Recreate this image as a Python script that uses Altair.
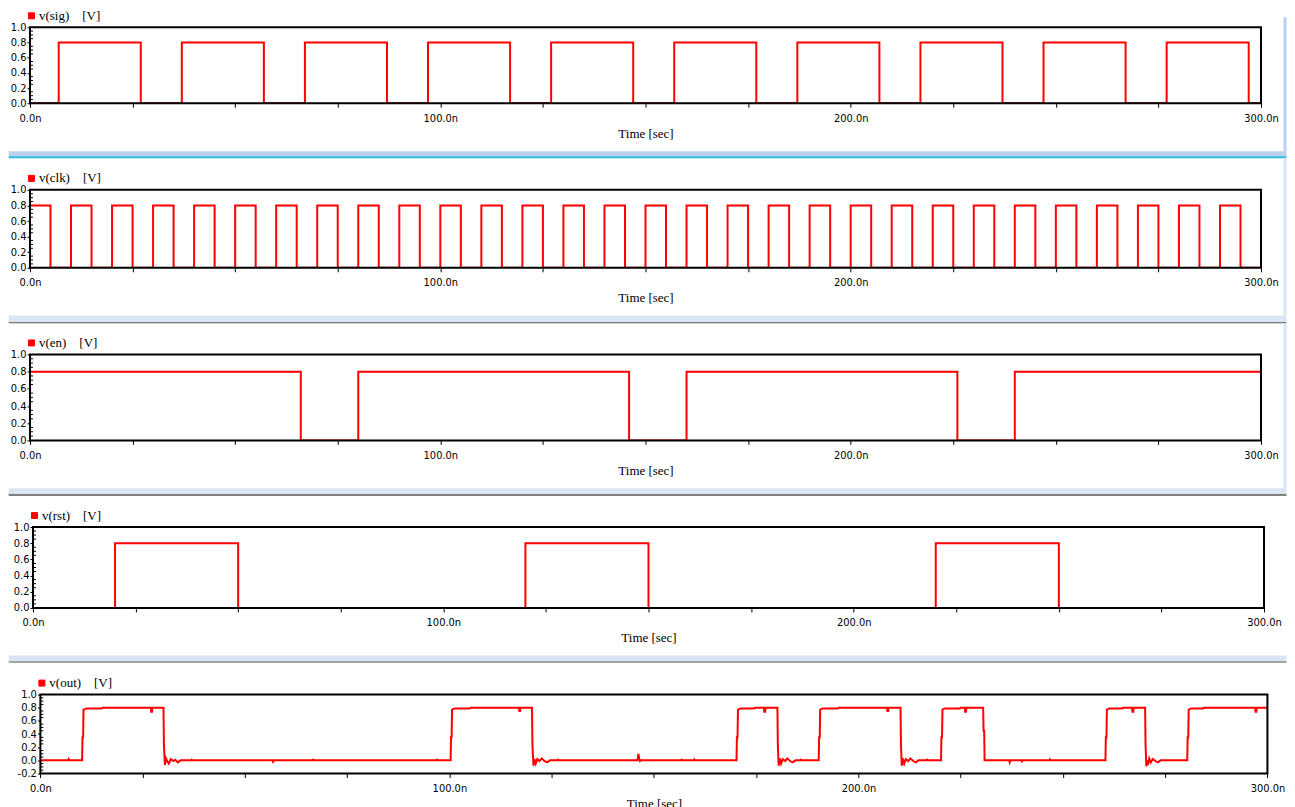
import altair as alt
import pandas as pd

# time axis, ns
x_ticks = [0, 25, 50, 75, 100, 125, 150, 175, 200, 225, 250, 275, 300]
y_labels = [0.0, 0.2, 0.4, 0.6, 0.8, 1.0]
y_labels_out = [-0.2, 0.0, 0.2, 0.4, 0.6, 0.8, 1.0]
y_minor = [0.05, 0.1, 0.15, 0.25, 0.3, 0.35, 0.45, 0.5, 0.55, 0.65, 0.7, 0.75, 0.85, 0.9, 0.95]
y_minor_out = [-0.15, -0.1, -0.05] + y_minor

# digital inputs: time of each edge and the level after it
sig_t = [0, 7, 27, 37, 57, 67, 87, 97, 117, 127, 147, 157, 177, 187, 207, 217, 237, 247, 267, 277, 297, 300]
sig_v = [0, 0.8, 0, 0.8, 0, 0.8, 0, 0.8, 0, 0.8, 0, 0.8, 0, 0.8, 0, 0.8, 0, 0.8, 0, 0.8, 0, 0]

clk_t = [0, 5, 10, 15, 20, 25, 30, 35, 40, 45, 50, 55, 60, 65, 70, 75, 80, 85, 90, 95,
         100, 105, 110, 115, 120, 125, 130, 135, 140, 145, 150, 155, 160, 165, 170, 175,
         180, 185, 190, 195, 200, 205, 210, 215, 220, 225, 230, 235, 240, 245, 250, 255,
         260, 265, 270, 275, 280, 285, 290, 295, 300]
clk_v = [0.8, 0, 0.8, 0, 0.8, 0, 0.8, 0, 0.8, 0, 0.8, 0, 0.8, 0, 0.8, 0, 0.8, 0, 0.8, 0,
         0.8, 0, 0.8, 0, 0.8, 0, 0.8, 0, 0.8, 0, 0.8, 0, 0.8, 0, 0.8, 0,
         0.8, 0, 0.8, 0, 0.8, 0, 0.8, 0, 0.8, 0, 0.8, 0, 0.8, 0, 0.8, 0,
         0.8, 0, 0.8, 0, 0.8, 0, 0.8, 0, 0]

en_t = [0, 66, 80, 146, 160, 226, 240, 300]
en_v = [0.8, 0, 0.8, 0, 0.8, 0, 0.8, 0.8]

rst_t = [0, 20, 50, 120, 150, 220, 250, 300]
rst_v = [0, 0.8, 0, 0.8, 0, 0.8, 0, 0]

# analog output (t ns, V)
out_points = [
    (0.0, -0.01), (0.5, 0.0), (6.8, 0.0), (6.9, 0.02), (7.1, 0.0), (10.2, 0.0),
    (10.3, 0.35), (10.45, 0.35), (10.55, 0.77), (11.3, 0.79), (15.0, 0.79), (15.2, 0.8),
    (27.0, 0.8), (27.1, 0.74), (27.3, 0.74), (27.4, 0.8),
    (30.1, 0.8), (30.2, 0.25), (30.45, -0.07), (30.7, 0.03), (31.0, -0.01), (31.4, -0.05),
    (31.9, 0.02), (32.5, -0.01), (33.0, 0.01), (33.6, -0.03), (34.3, 0.0),
    (36.9, 0.0), (37.0, 0.01), (37.2, 0.0),
    (56.8, 0.0), (56.9, -0.02), (57.1, 0.0), (66.6, 0.0), (66.7, 0.01), (66.9, 0.0),
    (96.9, 0.0), (97.0, 0.01), (97.2, 0.0),
    (100.3, 0.0), (100.4, 0.35), (100.55, 0.35), (100.65, 0.77), (101.3, 0.79), (105.0, 0.79), (105.2, 0.8),
    (117.0, 0.8), (117.1, 0.75), (117.3, 0.75), (117.4, 0.8),
    (120.2, 0.8), (120.3, 0.25), (120.55, -0.08), (120.8, 0.02), (121.1, -0.05), (121.5, 0.02),
    (122.0, -0.01), (122.6, 0.03), (123.2, -0.01), (123.9, -0.03), (124.6, 0.0),
    (126.5, 0.0), (126.6, 0.01), (126.8, 0.0),
    (146.0, 0.0), (146.2, 0.1), (146.4, 0.03), (146.6, -0.01), (146.8, 0.0),
    (156.7, 0.0), (156.8, 0.01), (157.0, 0.0), (159.8, 0.0), (159.9, 0.015), (160.1, 0.0),
    (170.2, 0.0), (170.3, 0.35), (170.45, 0.35), (170.55, 0.77), (171.2, 0.79), (174.5, 0.79), (174.7, 0.8),
    (176.9, 0.8), (177.0, 0.74), (177.2, 0.74), (177.3, 0.8),
    (180.2, 0.8), (180.3, 0.25), (180.5, -0.08), (180.8, 0.03), (181.1, -0.05), (181.5, 0.02),
    (182.1, -0.01), (182.6, 0.03), (183.3, -0.01), (183.9, -0.03), (184.6, 0.0),
    (185.8, 0.0), (185.9, 0.01), (186.1, 0.0),
    (190.3, 0.0), (190.4, 0.35), (190.55, 0.35), (190.65, 0.77), (191.3, 0.79), (195.0, 0.79), (195.2, 0.8),
    (207.0, 0.8), (207.1, 0.75), (207.3, 0.75), (207.4, 0.8),
    (210.3, 0.8), (210.4, 0.25), (210.6, -0.08), (210.9, 0.03), (211.2, -0.05), (211.6, 0.02),
    (212.2, -0.01), (212.7, 0.03), (213.4, -0.01), (214.0, -0.03), (214.7, 0.0),
    (216.7, 0.0), (216.8, 0.01), (217.0, 0.0),
    (220.2, 0.0), (220.3, 0.35), (220.45, 0.35), (220.55, 0.77), (221.2, 0.79), (224.8, 0.79), (225.0, 0.8),
    (226.0, 0.8), (226.1, 0.74), (226.3, 0.74), (226.4, 0.8),
    (230.5, 0.8), (230.6, 0.45), (230.75, 0.45), (230.85, 0.0),
    (236.9, 0.0), (237.0, -0.03), (237.2, 0.0), (239.9, 0.0), (240.0, -0.015), (240.2, 0.0),
    (246.7, 0.0), (246.8, 0.015), (247.0, 0.0),
    (260.4, 0.0), (260.5, 0.35), (260.65, 0.35), (260.75, 0.77), (261.4, 0.79), (264.5, 0.79), (264.7, 0.8),
    (266.9, 0.8), (267.0, 0.74), (267.2, 0.74), (267.3, 0.8),
    (270.1, 0.8), (270.2, 0.25), (270.4, -0.09), (270.6, 0.0), (270.8, -0.07), (271.1, 0.03),
    (271.5, -0.03), (272.0, 0.02), (272.6, -0.01), (273.2, -0.03), (273.9, 0.0), (276.0, 0.0),
    (280.4, 0.0), (280.5, 0.35), (280.65, 0.35), (280.75, 0.77), (281.4, 0.79), (284.3, 0.79), (284.5, 0.8),
    (297.0, 0.8), (297.1, 0.74), (297.3, 0.74), (297.4, 0.8), (300.0, 0.8),
]

NARROW = "Liberation Sans Narrow, Arial Narrow, DejaVu Sans Condensed, Liberation Sans, sans-serif"
SERIF = "Liberation Serif, Times New Roman, serif"
RED = "#ff0000"


def panel(name, t, v, shift, plot_w, height, y_dom, y_lab, y_min, interp, frame):
    df = pd.DataFrame({"t": t, "v": v, "sig": name})
    x = alt.X("t:Q", scale=alt.Scale(domain=[0, 300], nice=False, range=[shift, shift + plot_w]),
              axis=alt.Axis(values=x_ticks, tickCount=40, title="Time [sec]", tickSize=4,
                            labelPadding=5, titlePadding=4, labelFlush=False, labelOverlap=False,
                            domain=False,
                            labelExpr="datum.value % 100 === 0 ? format(datum.value, '.1f') + 'n' : ''"))
    y = alt.Y("v:Q", scale=alt.Scale(domain=y_dom, nice=False, zero=False),
              axis=alt.Axis(values=y_lab, tickCount=40, title=None, tickSize=3, labelPadding=1,
                            offset=-shift, labelOverlap=False, labelFlush=False, labelBound=False,
                            domain=False,
                            labelExpr="replace(format(datum.value, '.1f'), '\u2212', '-')"))
    line = alt.Chart(df).mark_line(interpolate=interp, strokeWidth=2, clip=True).encode(
        x=x, y=y,
        color=alt.Color("sig:N", scale=alt.Scale(domain=[name], range=[RED]),
                        legend=alt.Legend(orient="none", legendX=shift - 5, legendY=-18, title=None,
                                          symbolType="square", symbolSize=36,
                                          symbolFillColor=RED, symbolStrokeColor="#300000",
                                          symbolStrokeWidth=1, labelFont=SERIF, labelFontSize=13,
                                          labelColor="black", labelOffset=1, padding=0,
                                          labelExpr="datum.label + '\u00a0\u00a0\u00a0\u00a0[V]'")))
    one = alt.Chart(pd.DataFrame({"f": [0]}))
    box = one.mark_rect(fillOpacity=0, stroke="black", strokeWidth=2).encode(
        x=alt.datum(0), x2=alt.datum(300), y=alt.datum(y_dom[0]), y2=alt.datum(y_dom[1]))
    minor = alt.Chart(pd.DataFrame({"v": y_min})).mark_rule(color="black", strokeWidth=1).encode(
        y=y, x=alt.value(shift), x2=alt.value(shift + 3))
    layers = [line, box, minor]
    if frame is not None:
        b0, b1, l1, band_col, line_col, strip_top = frame
        # window frame below the panel, kept inside the 1295 px page
        left, right = -21.3, 1257.5
        layers.append(one.mark_rect(color=band_col).encode(
            x=alt.value(left), x2=alt.value(right), y=alt.value(b0), y2=alt.value(b1)))
        layers.append(one.mark_rect(color=line_col).encode(
            x=alt.value(left), x2=alt.value(right), y=alt.value(b1), y2=alt.value(l1)))
        if strip_top is not None:
            layers.append(one.mark_rect(color=band_col).encode(
                x=alt.value(right - 3), x2=alt.value(right), y=alt.value(strip_top), y2=alt.value(b0)))
    return alt.layer(*layers).properties(width=shift + plot_w, height=height)


p1 = panel("v(sig)", sig_t, sig_v, 0, 1232, 76, [0, 1], y_labels, y_minor, "step-after",
           (124, 129, 131, "#b9d1ea", "#2ab8e0", -10))
p2 = panel("v(clk)", clk_t, clk_v, 0, 1232, 78, [0, 1], y_labels, y_minor, "step-after",
           (125.7, 132.4, 133.4, "#d9e5f2", "#555555", -32))
p3 = panel("v(en)", en_t, en_v, 0, 1232, 86, [0, 1], y_labels, y_minor, "step-after",
           (134, 140, 141.3, "#d9e5f2", "#555555", -31))
p4 = panel("v(rst)", rst_t, rst_v, 3, 1232, 81, [0, 1], y_labels, y_minor, "step-after",
           (128.7, 134.7, 135.7, "#d9e5f2", "#555555", None))
p5 = panel("v(out)", [p[0] for p in out_points], [p[1] for p in out_points], 10.4, 1228, 79,
           [-0.2, 1], y_labels_out, y_minor_out, "linear", None)

chart = alt.vconcat(p1, p2, p3, p4, p5, spacing=86.7, bounds="flush").resolve_scale(
    color="independent", x="independent", y="independent"
).properties(
    padding={"left": 0, "top": 1, "right": 0, "bottom": 0}
).configure_view(
    strokeOpacity=0
).configure_axis(
    labelFont=NARROW, labelFontSize=11, labelColor="black",
    labelOverlap=False, labelFlush=False,
    tickColor="black", grid=False,
    titleFont=SERIF, titleFontSize=13, titleFontWeight="normal", titleColor="black"
)

chart.save("out.html", embed_options={"renderer": "svg", "actions": False})
